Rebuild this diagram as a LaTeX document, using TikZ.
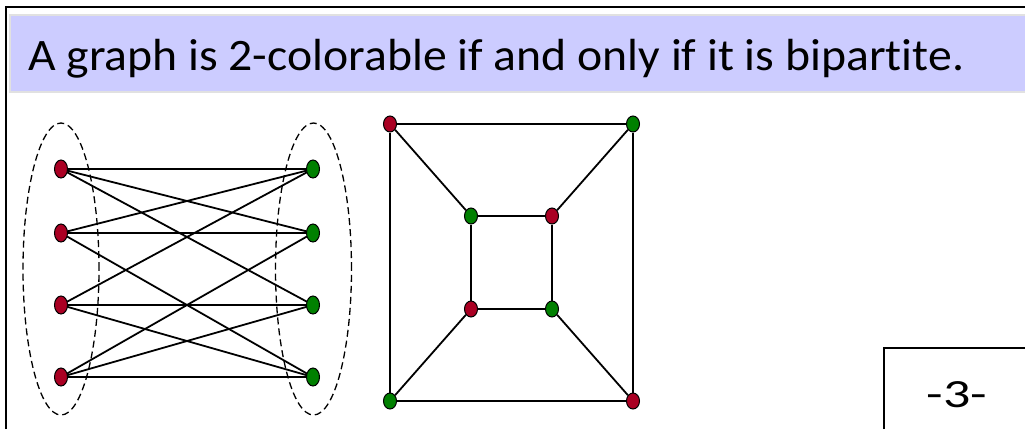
\documentclass[tikz,border=0pt]{standalone}
\usepackage{fontspec}
\setmainfont{Carlito}[Ligatures=NoCommon]
\usetikzlibrary{shapes.geometric}
\definecolor{vred}{RGB}{170,0,35}
\definecolor{vgreen}{RGB}{0,128,0}
\definecolor{bandblue}{RGB}{204,204,255}
\definecolor{bandedge}{RGB}{225,225,225}
\tikzset{
  vtx/.style={ellipse, draw=black, line width=1bp, inner sep=0pt, minimum width=13bp, minimum height=16bp},
  rv/.style={vtx, fill=vred},
  gv/.style={vtx, fill=vgreen},
  tallv/.style={minimum height=18bp},
  edge/.style={draw=black, line width=1.8bp},
  grp/.style={draw=black, dash pattern=on 7bp off 4bp, line width=1.3bp},
  frame/.style={draw=black, line width=2bp}
}
\begin{document}
\begin{tikzpicture}[x=1bp,y=-1bp]
\useasboundingbox (0,0) rectangle (1025,429);
% frame
\draw[frame] (6,429) -- (6,7) -- (1025,7);
% title band
\fill[fill=bandblue, draw=bandedge, line width=1.5bp] (10,15) rectangle (1030,92);
\node[anchor=base west, inner sep=0pt, font=\fontsize{45bp}{50bp}\selectfont] (title) at (28,70) {\scalebox{1.06}[1]{A graph is 2-colorable if and only if it is bipartite.}};
% page number box
\draw[line width=1.2bp] (884,429) -- (884,348) -- (1030,348);
\node[anchor=base, inner sep=0pt, font=\fontsize{40bp}{44bp}\selectfont] (pg) at (957,407) {\scalebox{1.35}[1]{-3-}};
% bipartite graph
\node[grp, ellipse, minimum width=76bp, minimum height=292bp, inner sep=0pt] (eL) at (61,269) {};
\node[grp, ellipse, minimum width=76bp, minimum height=292bp, inner sep=0pt] (eR) at (313.5,269) {};
\coordinate (l1) at (61,169);
\coordinate (l2) at (61,233);
\coordinate (l3) at (61,305);
\coordinate (l4) at (61,377);
\coordinate (r1) at (313,169);
\coordinate (r2) at (313,233);
\coordinate (r3) at (313,305);
\coordinate (r4) at (313,377);
\foreach \a/\b in {l1/r1,l1/r2,l1/r3,l2/r1,l2/r2,l2/r4,l3/r1,l3/r3,l3/r4,l4/r2,l4/r3,l4/r4}
  \draw[edge] (\a) -- (\b);
\foreach \n in {l1,l2,l3,l4} \node[rv, tallv] (v\n) at (\n) {};
\foreach \n in {r1,r2,r3,r4} \node[gv, tallv] (v\n) at (\n) {};
% second graph
\node[rv] (otl) at (390,124) {};
\node[gv] (otr) at (633,124) {};
\node[gv] (obl) at (390,401) {};
\node[rv] (obr) at (633,401) {};
\node[gv] (itl) at (471,216) {};
\node[rv] (itr) at (552,216) {};
\node[rv] (ibl) at (471,309) {};
\node[gv] (ibr) at (552,309) {};
\draw[edge] (otl) -- (otr) -- (obr) -- (obl) -- (otl);
\draw[edge] (itl) -- (itr) -- (ibr) -- (ibl) -- (itl);
\draw[edge] (otl) -- (itl);
\draw[edge] (otr) -- (itr);
\draw[edge] (obl) -- (ibl);
\draw[edge] (obr) -- (ibr);
\end{tikzpicture}
\end{document}
